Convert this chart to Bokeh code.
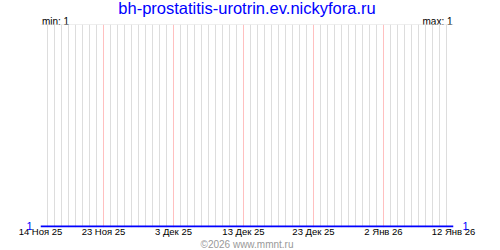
import pandas as pd
from bokeh.plotting import figure
from bokeh.models import Range1d, FixedTicker, Grid, Span, Title, LinearAxis
from bokeh.embed import file_html
from bokeh.resources import INLINE

# ---- data ----
title_text = "bh-prostatitis-urotrin.ev.nickyfora.ru"
dates = ["2025-11-14", "2026-01-12"]
values = [1, 1]
tick_dates = ["2025-11-14", "2025-11-23", "2025-12-03", "2025-12-13",
              "2025-12-23", "2026-01-02", "2026-01-12"]
tick_labels = ["14 Ноя 25", "23 Ноя 25", "3 Дек 25", "13 Дек 25",
               "23 Дек 25", "2 Янв 26", "12 Янв 26"]
min_val = 1
max_val = 1
copyright_text = "©2026 www.mmnt.ru"

FONT = "Liberation Sans"
FRAME_W = 413

def ms(d):
    return int(pd.Timestamp(d).value // 10**6)

x = [pd.Timestamp(d) for d in dates]
x0, x1 = ms(dates[0]), ms(dates[-1])

p = figure(width=500, height=250, output_backend="svg", toolbar_location=None,
           x_axis_type="datetime",
           x_range=Range1d(x0, x1), y_range=Range1d(0.995, 2.0),
           min_border_left=40, min_border_right=47, min_border_top=0,
           min_border_bottom=23, outline_line_color=None)
p.background_fill_color = "white"
p.border_fill_color = "white"
p.extra_x_ranges = {"px": Range1d(0, FRAME_W)}

p.xgrid.visible = False
p.ygrid.visible = False

# daily grid
tks = [ms(d) for d in tick_dates]
days = [int(t.value // 10**6) for t in pd.date_range(dates[0], dates[-1], freq="D")]
day_only = [d for d in days if d not in set(tks)]
p.add_layout(Grid(dimension=0, ticker=FixedTicker(ticks=day_only),
                  grid_line_color="#dddddd", grid_line_width=1))
p.add_layout(Grid(dimension=0, ticker=FixedTicker(ticks=tks),
                  grid_line_color="#ffc0c0", grid_line_width=1))
p.add_layout(Span(location=2.0, dimension="width", line_color="#dddddd", line_width=1))

p.line(x=x, y=values, line_color="#0000ff", line_width=2)

def bare(axis):
    axis.axis_line_color = None
    axis.major_tick_line_color = None
    axis.minor_tick_line_color = None
    axis.major_tick_out = 0
    axis.major_tick_in = 0
    axis.minor_tick_out = 0
    axis.minor_tick_in = 0

# bottom axis
ax = p.xaxis[0]
bare(ax)
ax.ticker = FixedTicker(ticks=tks)
ax.major_label_overrides = {t: l for t, l in zip(tks, tick_labels)}
ax.major_label_standoff = -2
ax.major_label_text_font = FONT
ax.major_label_text_font_size = "9.5px"
ax.major_label_text_color = "black"

# copyright under the axis
p.add_layout(Title(text=copyright_text, align="center", offset=10, standoff=-5,
                   text_color="#999999", text_font=FONT, text_font_size="10px",
                   text_font_style="normal"), "below")

# left/right axis with value
ly = p.yaxis[0]
bare(ly)
ly.ticker = FixedTicker(ticks=[min_val])
ly.major_label_standoff = 8
ly.major_label_text_color = "#0000ff"
ly.major_label_text_font = FONT
ly.major_label_text_font_size = "11px"
ry = LinearAxis(ticker=FixedTicker(ticks=[max_val]), major_label_standoff=9,
                major_label_text_color="#0000ff",
                major_label_text_font=FONT, major_label_text_font_size="11px")
bare(ry)
p.add_layout(ry, "right")

# min / max labels along the top
pos_min, pos_max = 15, FRAME_W - 16
tax = LinearAxis(x_range_name="px", ticker=FixedTicker(ticks=[pos_min, pos_max]),
                 major_label_overrides={pos_min: f"min: {min_val}", pos_max: f"max: {max_val}"},
                 major_label_standoff=-2, major_label_text_color="black",
                 major_label_text_font=FONT, major_label_text_font_size="10px")
bare(tax)
p.add_layout(tax, "above")

p.add_layout(Title(text=title_text, align="center", standoff=-8, offset=0,
                   text_color="#0000ff", text_font=FONT, text_font_size="16.5px",
                   text_font_style="normal"), "above")

open("out.html", "w").write(file_html(p, INLINE))
